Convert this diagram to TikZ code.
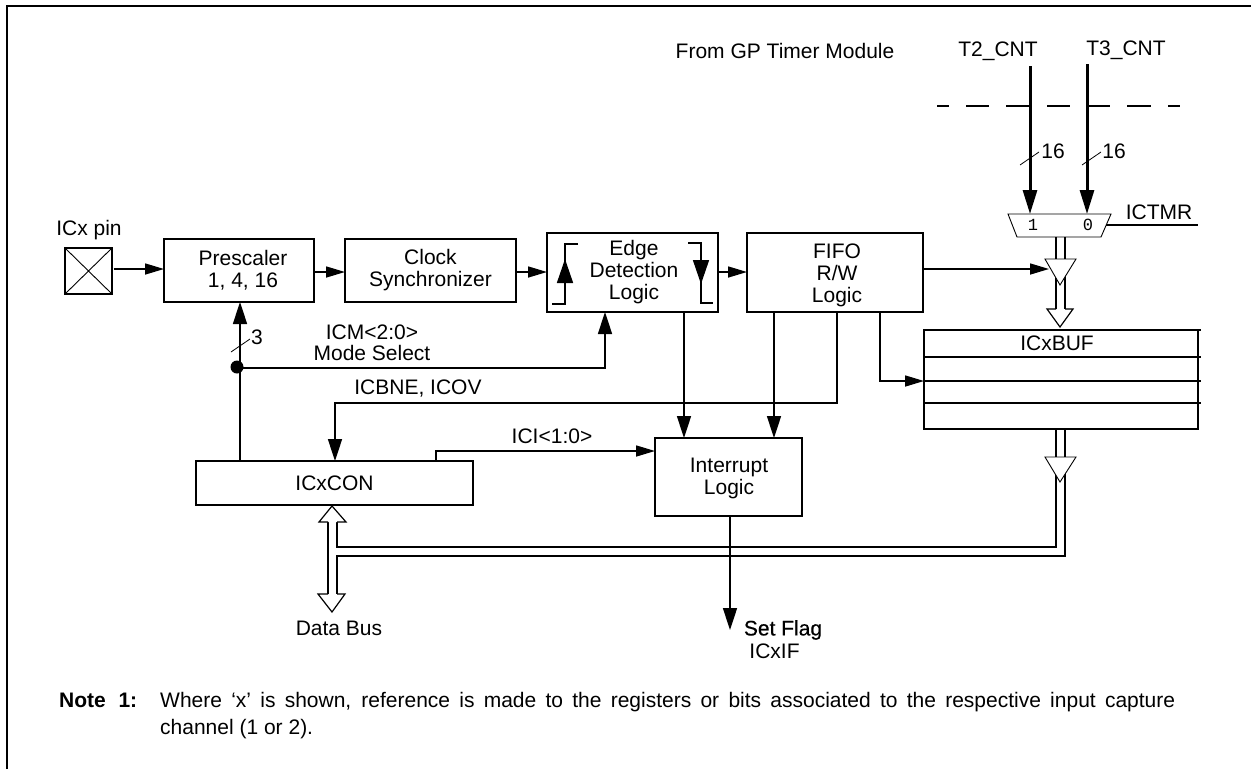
\documentclass[tikz,border=0pt]{standalone}
\usepackage{fontspec}
\setmainfont{Liberation Sans}
\newfontfamily\monof{Liberation Mono}
\newfontfamily\fakebf[FakeBold=0.4]{Liberation Sans}
\usetikzlibrary{arrows.meta}
\tikzset{
 wire/.style={line width=1.6pt},
 boldwire/.style={line width=3pt},
 arrv/.style={wire,-{Triangle[length=22pt,width=14pt]}},
 arrh/.style={wire,-{Triangle[length=19pt,width=11pt]}},
 boldarr/.style={boldwire,-{Triangle[length=24pt,width=14pt]}},
 iconarr/.style={wire,-{Triangle[length=24pt,width=16pt]}},
 blockbox/.style={draw,line width=1.6pt,fill=white,align=center,inner sep=0pt,outer sep=0pt,font=\fontsize{21}{22}\selectfont},
 lab/.style={inner sep=0pt,align=center,font=\fontsize{21}{22}\selectfont},
 tick/.style={line width=.8pt},
 tri/.style={draw,line width=.9pt,fill=white},
 hollow/.style={draw,line width=1.2pt,fill=white},
 digit/.style={inner sep=0pt,font=\monof\fontsize{17}{17}\selectfont},
 notefont/.style={inner sep=0pt,anchor=base west,font=\fontsize{21}{22}\selectfont},
}
\begin{document}
\begin{tikzpicture}[x=1pt,y=-1pt]
\useasboundingbox (0,0) rectangle (1251,769);
\fill[white] (0,0) rectangle (1251,769);
\draw[line width=1.8pt] (7,769) -- (7,6) -- (1251,6);
% alignment helpers
\coordinate (rowA) at (0,272);
\coordinate (rowB) at (0,269);
\coordinate (rowM) at (0,368);
\coordinate (rowN) at (0,403);
\coordinate (rowF) at (0,381);
\coordinate (rowI) at (0,451);
\coordinate (colP) at (240,0);
\coordinate (colE) at (605,0);
\coordinate (colD) at (684,0);
\coordinate (colG) at (774,0);
\coordinate (colH) at (837,0);
\coordinate (colJ) at (880,0);
\coordinate (colK) at (335,0);
\coordinate (colL) at (436,0);
\coordinate (colS) at (730,0);
% blocks
\node[blockbox,minimum width=150pt,minimum height=63pt] (pre) at (239,270.5) {};
\node[lab] (pretxt) at (243,270) {Prescaler\\1, 4, 16};
\node[blockbox,minimum width=171pt,minimum height=63pt] (clk) at (430.5,270.5) {};
\node[lab] (clktxt) at (430.5,270) {Clock\\Synchronizer};
\node[blockbox,minimum width=171pt,minimum height=79pt] (edge) at (632.5,272.5) {};
\node[lab] (edgetxt) at (634,272) {Edge\\Detection\\Logic};
\node[blockbox,minimum width=176pt,minimum height=79pt] (fifo) at (835,272.5) {};
\node[lab] (fifotxt) at (837,275) {FIFO\\R/W\\Logic};
\node[blockbox,minimum width=274pt,minimum height=99pt] (buf) at (1061,379.5) {};
\node[lab] (buftxt) at (1057,343) {ICxBUF};
\draw[wire] (buf.north east) -- ++(3,0);
\draw[wire] (buf.west |- 0,357) -- (1201,357);
\draw[wire] (buf.west |- 0,381) -- (1201,381);
\draw[wire] (buf.west |- 0,403) -- (1201,403);
\node[blockbox,minimum width=277pt,minimum height=44pt] (con) at (334.5,483) {ICxCON};
\node[blockbox,minimum width=147pt,minimum height=78pt] (int) at (728.5,477) {};
\node[lab] (inttxt) at (729,478) {Interrupt\\Logic};
% pin
\node[draw,line width=1.6pt,minimum width=47pt,minimum height=46pt,inner sep=0pt,outer sep=0pt] (pin) at (88.5,271) {};
\draw[line width=.9pt] (pin.north west) -- (pin.south east) (pin.north east) -- (pin.south west);
\node[lab] (pinlab) at (89,230) {ICx pin};
% mux
\draw[tri] (1008,214) -- (1111,214) -- (1101,237) -- (1017,237) -- cycle;
\node[digit] (m1) at (1033,225) {1};
\node[digit] (m0) at (1088,225) {0};
\node[lab] (ictmr) at (1159,212) {ICTMR};
\coordinate (ictmrE) at (1198,225);
\coordinate (ictmrS) at (1106,225);
\draw[wire] (ictmrS) -- (ictmrE);
% top labels
\node[lab] (gp) at (785,51) {From GP Timer Module};
\node[lab] (t2) at (998,51) {T2\_CNT};
\node[lab] (t3) at (1126,50) {T3\_CNT};
% dashed line
\draw[line width=1.6pt] (937,106) -- (949,106) (966,106) -- (989,106) (1006,106) -- (1029,106) (1047,106) -- (1070,106) (1087,106) -- (1110,106) (1127,106) -- (1151,106) (1168,106) -- (1180,106);
% bold inputs
\coordinate (t2top) at (1030,66);
\coordinate (t3top) at (1087,64);
\coordinate (t2bot) at (1030,214);
\coordinate (t3bot) at (1087,214);
\draw[boldarr] (t2top) -- (t2bot);
\draw[boldarr] (t3top) -- (t3bot);
\draw[tick] (1020,165) -- (1039,152);
\draw[tick] (1082,165) -- (1101,152);
\node[lab] (n16a) at (1053,151) {16};
\node[lab] (n16b) at (1114,151) {16};
% double bus mux to buf
\draw[wire] (1056,237) -- (1056,310) (1065,237) -- (1065,310);
\draw[hollow] (1056,309) -- (1047,309) -- (1060,327) -- (1073,309) -- (1065,309);
\draw[tri] (1045,259) -- (1076,259) -- (1060,285) -- cycle;
\coordinate (trin) at (1049,269);
% double bus from buf
\draw[wire] (1056,429) -- (1056,547) -- (337,547) -- (337,521);
\draw[wire] (1065,429) -- (1065,556) -- (337,556) -- (337,594);
\draw[wire] (328,522) -- (328,594);
\draw[hollow] (328,522) -- (319,522) -- (332,506) -- (346,522) -- (337,522);
\draw[hollow] (328,594) -- (318,594) -- (332,612) -- (345,594) -- (337,594);
\draw[tri] (1045,457) -- (1076,457) -- (1060,482) -- cycle;
\node[lab] (db) at (339,628) {Data Bus};
% connectors
\draw[arrh] (pin.east |- 0,269) ++(1.5,0) -- (pre.west |- 0,269);
\draw[arrh] (pre.east |- rowA) -- (clk.west |- rowA);
\draw[arrh] (clk.east |- rowA) -- (edge.west |- rowA);
\draw[arrh] (edge.east |- rowA) -- (fifo.west |- rowA);
\draw[arrh] (fifo.east |- rowB) -- (trin);
\draw[arrv] (colD |- edge.south) -- (colD |- int.north);
\draw[arrv] (colG |- fifo.south) -- (colG |- int.north);
\draw[arrv] (colH |- fifo.south) -- (colH |- rowN) -- (colK |- rowN) -- (colK |- con.north);
\draw[arrh] (colJ |- fifo.south) -- (colJ |- rowF) -- (buf.west |- rowF);
\draw[arrv] (colP |- con.north) -- (colP |- pre.south);
\node[circle,fill=black,minimum size=13pt,inner sep=0pt,outer sep=0pt] (dot) at (237,367) {};
\draw[arrv] (dot.center |- rowM) -- (colE |- rowM) -- (colE |- edge.south);
\draw[arrh] (colL |- con.north) -- (colL |- rowI) -- (int.west |- rowI);
\coordinate (flagtip) at (730,630);
\draw[arrv] (colS |- int.south) -- (flagtip);
% edge icons
\draw[wire] (578,244) -- (565,244) -- (565,304) -- (552,304);
\draw[iconarr] (565,283) -- (565,259);
\draw[wire] (688,243) -- (701,243) -- (701,303) -- (713,303);
\draw[iconarr] (701,259) -- (701,284);
\draw[tick] (231,352) -- (250,339);
\node[lab] (n3) at (257,337) {3};
% labels
\node[lab,font=\fontsize{21}{20.5}\selectfont] (icm) at (372,343) {ICM<2:0>\\Mode Select};
\node[lab] (icb) at (418,389) {ICBNE, ICOV};
\node[lab] (ici) at (552,436) {ICI<1:0>};
\node[lab,font=\fakebf\fontsize{21}{22}\selectfont] (sf) at (783,630) {Set Flag};
\node[lab] (ixf) at (774.5,651) {ICxIF};
% note
\node[notefont,font=\bfseries\fontsize{21}{22}\selectfont] (nl) at (59,707) {\makebox[78pt][s]{Note\ \ 1:}};
\node[notefont] (n1) at (160,707) {\makebox[1015pt][s]{Where ‘x’ is shown, reference is made to the registers or bits associated to the respective input capture}};
\node[notefont] (n2) at (160,734) {channel (1 or 2).};
\end{tikzpicture}
\end{document}
